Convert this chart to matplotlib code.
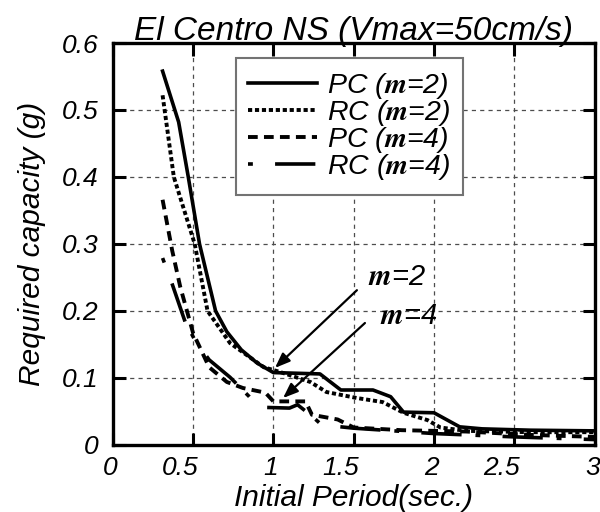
import numpy as np
import matplotlib
matplotlib.use("Agg")
import matplotlib.pyplot as plt
import matplotlib.transforms as mtransforms

# ------------------------------------------------------------
# Required capacity spectra, El Centro NS scaled to 50 cm/s
# ------------------------------------------------------------

pc_m2_period = [0.31, 0.41, 0.47, 0.54, 0.64, 0.71, 0.80, 0.90, 1.00, 1.29, 1.42, 1.62, 1.73,
                1.81, 2.00, 2.16, 2.30, 2.60, 3.00]
pc_m2_cap = [0.558, 0.482, 0.400, 0.300, 0.200, 0.169, 0.142, 0.122, 0.108, 0.106, 0.082, 0.082,
             0.072, 0.049, 0.048, 0.027, 0.024, 0.022, 0.021]

rc_m2_period = [0.31, 0.38, 0.51, 0.59, 0.73, 0.94, 1.04, 1.23, 1.33, 1.52, 1.68, 1.81, 1.96,
                2.04, 2.20, 2.60, 3.00]
rc_m2_cap = [0.522, 0.400, 0.300, 0.200, 0.152, 0.116, 0.109, 0.094, 0.079, 0.070, 0.064, 0.048,
             0.037, 0.026, 0.021, 0.019, 0.019]

pc_m4_period = [0.31, 0.37, 0.42, 0.50, 0.60, 0.71, 0.81, 0.95, 1.00, 1.20, 1.24, 1.40, 1.50,
                1.80, 2.20, 2.60, 3.00]
pc_m4_cap = [0.366, 0.290, 0.236, 0.167, 0.116, 0.094, 0.085, 0.078, 0.065, 0.065, 0.045, 0.038,
             0.026, 0.022, 0.020, 0.015, 0.012]

rc_m4_period = [0.31, 0.37, 0.45, 0.51, 0.60, 0.73, 0.85, 0.90, 0.95, 1.10, 1.15, 1.24, 1.30,
                1.50, 2.00, 2.50, 3.00]
rc_m4_cap = [0.279, 0.240, 0.184, 0.157, 0.127, 0.101, 0.072, 0.058, 0.056, 0.055, 0.060, 0.043,
             0.030, 0.025, 0.017, 0.012, 0.008]

x_ticks = [0, 0.5, 1, 1.5, 2, 2.5, 3]
y_ticks = [0, 0.1, 0.2, 0.3, 0.4, 0.5, 0.6]
x_ticklabels = ["0", "0.5", "1", "1.5", "2", "2.5", "3"]
y_ticklabels = ["0", "0.1", "0.2", "0.3", "0.4", "0.5", "0.6"]

plt.rcParams["font.family"] = ["Liberation Sans", "DejaVu Sans"]
plt.rcParams["font.style"] = "italic"
plt.rcParams["mathtext.fontset"] = "stix"
plt.rcParams["lines.scale_dashes"] = False

fig = plt.figure(figsize=(6.0, 5.12), dpi=100)
ax = fig.add_axes([0.188, 0.131, 0.803, 0.785])

ax.plot(pc_m2_period, pc_m2_cap, color="black", lw=2.6, linestyle="-",
        label=r"PC ($\mathbf{m}$=2)")
ax.plot(rc_m2_period, rc_m2_cap, color="black", lw=2.8, linestyle=(0, (3, 2)),
        label=r"RC ($\mathbf{m}$=2)")
ax.plot(pc_m4_period, pc_m4_cap, color="black", lw=2.8, linestyle=(0, (7, 4.5)),
        label=r"PC ($\mathbf{m}$=4)")
ax.plot(rc_m4_period, rc_m4_cap, color="black", lw=2.6, linestyle=(0, (3.5, 16, 29, 10)),
        label=r"RC ($\mathbf{m}$=4)")

ax.set_xlim(0, 3)
ax.set_ylim(0, 0.6)
ax.set_xticks(x_ticks)
ax.set_xticklabels(x_ticklabels, ha="right")
ax.set_yticks(y_ticks)
ax.set_yticklabels(y_ticklabels)
ax.tick_params(direction="in", length=9, width=2.2, top=True, right=True, labelsize=19)
ax.tick_params(axis="x", pad=8)
ax.tick_params(axis="y", pad=10)

# x tick labels sit right-aligned a few pixels past their tick
shift = mtransforms.ScaledTranslation(5 / 100, 0, fig.dpi_scale_trans)
for lbl in ax.get_xticklabels():
    lbl.set_transform(lbl.get_transform() + shift)

for s in ax.spines.values():
    s.set_linewidth(2.4)
ax.grid(True, color="0.3", lw=0.9, linestyle=(0, (3, 3)))

ax.set_title("El Centro NS (Vmax=50cm/s)", fontsize=24, pad=2)
ax.set_xlabel("Initial Period(sec.)", fontsize=21.5, labelpad=3)
ax.set_ylabel("Required capacity (g)", fontsize=21.5, labelpad=12)

leg = ax.legend(loc="upper left", bbox_to_anchor=(0.255, 0.963), fontsize=20.5,
                handlelength=2.4, handletextpad=0.35, labelspacing=-0.1,
                borderpad=0.45, borderaxespad=0, fancybox=False, framealpha=1)
leg.get_frame().set_edgecolor("0.45")
leg.get_frame().set_linewidth(1.5)

# arrows pointing at the two ductility groups
arrow = dict(arrowstyle="-|>,head_length=0.9,head_width=0.35", color="black", lw=1.6,
             shrinkA=0, shrinkB=0)
ax.annotate("", xy=(1.01, 0.115), xytext=(1.52, 0.231), arrowprops=arrow)
ax.annotate("", xy=(1.06, 0.070), xytext=(1.57, 0.182), arrowprops=arrow)
ax.text(1.77, 0.251, r"$\mathbf{m}$=2", fontsize=21, ha="center", va="center")
ax.text(1.84, 0.193, r"$\mathbf{m}$=4", fontsize=21, ha="center", va="center")

fig.savefig("out.png", dpi=100)
